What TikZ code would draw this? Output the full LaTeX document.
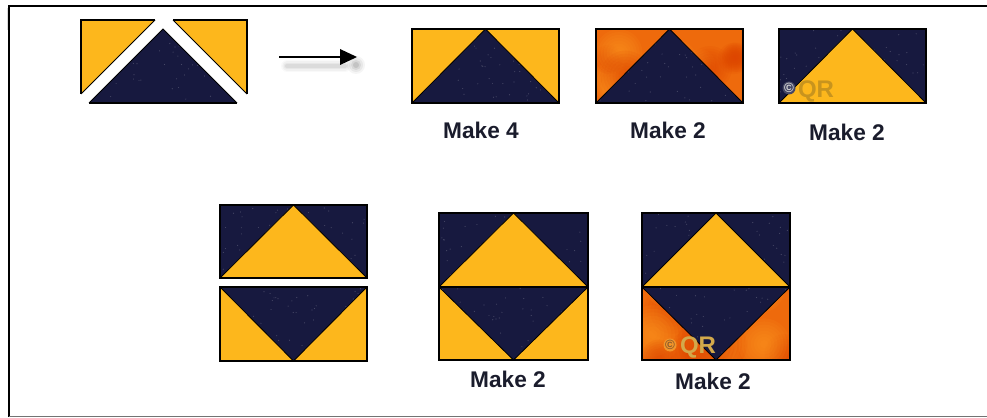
\documentclass[tikz,border=0pt]{standalone}
\usepackage{fontspec}
\setmainfont{Liberation Sans}
\definecolor{navy}{HTML}{17193F}
\definecolor{gold}{HTML}{FDB71C}
\definecolor{flame}{HTML}{EE6A0C}
\definecolor{flamelt}{HTML}{FF9A24}
\definecolor{flamedk}{HTML}{DE4300}
\definecolor{lbl}{HTML}{1A1C2C}
\definecolor{emboss}{HTML}{C8941E}
\tikzset{
  x=0.75pt,y=-0.75pt,
  edge/.style={preaction={draw=black!40,line width=1.5pt},draw=black,line width=0.9pt,line join=miter},
  seam/.style={draw=black,line width=0.6pt},
  makelbl/.style={font=\fontsize{17}{20}\selectfont\bfseries,text=lbl,inner sep=0pt},
  wm/.style={font=\fontsize{18}{20}\selectfont\bfseries,inner sep=0pt},
  wmc/.style={font=\fontsize{10}{10}\selectfont\bfseries,inner sep=0pt},
}
% specks on navy, inside current clip
\newcommand{\specks}[4]{%
  \pgfmathsetseed{#4}%
  \foreach \i in {1,...,55}{%
    \pgfmathsetmacro{\sx}{#1+rnd*#3}%
    \pgfmathsetmacro{\sy}{#2+rnd*74}%
    \fill[white,opacity=0.2] (\sx,\sy) circle (0.45pt);
  }}
% soft blotch: x y radius colour
\newcommand{\blotch}[4]{%
  \foreach \r in {1.0,0.88,0.76,0.64,0.52,0.40,0.28,0.16}{%
    \fill[#4,opacity=0.11] (#1,#2) circle ({#3*\r*0.75pt});
  }}
% orange mottled rectangle
\newcommand{\orangerect}[4]{%
  \fill[flame] (#1,#2) rectangle (#3,#4);
  \begin{scope}
    \clip (#1,#2) rectangle (#3,#4);
    \pgfmathsetseed{#1}%
    \foreach \i in {1,...,12}{%
      \pgfmathsetmacro{\bx}{#1+rnd*(#3-#1)}%
      \pgfmathsetmacro{\by}{#2+rnd*(#4-#2)}%
      \pgfmathsetmacro{\br}{14+rnd*16}%
      \pgfmathparse{mod(\i,2)==0 ? "flamelt" : "flamedk"}%
      \edef\bc{\pgfmathresult}%
      \blotch{\bx}{\by}{\br}{\bc}
    }
  \end{scope}
}
% flying geese, dark centre (apex at top)
\newcommand{\darkgoose}[5]{%
  \begin{scope}
    \clip (#1,#4) -- ({(#1+#3)/2},#2) -- (#3,#4) -- cycle;
    \fill[navy] (#1,#2) rectangle (#3,#4);
    \specks{#1}{#2}{147}{#5}
  \end{scope}
  \draw[seam] (#1,#4) -- ({(#1+#3)/2},#2) -- (#3,#4);
}
\newcommand{\darkgoosedown}[5]{% apex at bottom
  \begin{scope}
    \clip (#1,#2) -- ({(#1+#3)/2},#4) -- (#3,#2) -- cycle;
    \fill[navy] (#1,#2) rectangle (#3,#4);
    \specks{#1}{#2}{147}{#5}
  \end{scope}
  \draw[seam] (#1,#2) -- ({(#1+#3)/2},#4) -- (#3,#2);
}
% gold goose on dark ground, apex up
\newcommand{\goldgoose}[5]{%
  \fill[navy] (#1,#2) rectangle (#3,#4);
  \begin{scope}
    \clip (#1,#2) rectangle (#3,#4);
    \specks{#1}{#2}{147}{#5}
  \end{scope}
  \fill[gold] (#1,#4) -- ({(#1+#3)/2},#2) -- (#3,#4) -- cycle;
  \draw[seam] (#1,#4) -- ({(#1+#3)/2},#2) -- (#3,#4);
}
\begin{document}
\begin{tikzpicture}
\useasboundingbox (0,0) rectangle (987,417);
\fill[white] (0,0) rectangle (987,417);
% outer frame
\fill[black!14] (7,8) rectangle (9,30);
\draw[black,line width=1.6pt] (9,417) -- (9,6) -- (987,6);
\draw[black!55,line width=0.9pt] (9,416.4) -- (987,416.4);

% exploded unit
\fill[gold] (81,20) -- (155,20) -- (81,94) -- cycle;
\draw[edge] (155,20) -- (81,20) -- (81,94);
\draw[seam] (155,20) -- (81,94);
\fill[gold] (173,20) -- (247,20) -- (247,94) -- cycle;
\draw[edge] (173,20) -- (247,20) -- (247,94);
\draw[seam] (173,20) -- (247,94);
\darkgoose{89}{29}{237}{103}{11}
\draw[edge] (89,103) -- (237,103);

% arrow
\coordinate (arrowA) at (279,57);
\coordinate (arrowB) at (357,57);
\foreach \w/\o in {9/0.025,7/0.03,5/0.04,3/0.05}{
  \draw[black,opacity=\o,line width=\w pt,line cap=round] (287,66) -- (345,66);
}
\foreach \r/\o in {9/0.04,7/0.05,5/0.07,3/0.09}{
  \fill[black,opacity=\o] (356,65) circle (\r);
}
\draw[black,line width=2pt] (arrowA) -- (342,57);
\fill[black] (340,49) -- (arrowB) -- (340,65) -- cycle;

% row 1 blocks
\fill[gold] (412,29) rectangle (559,103);
\darkgoose{412}{29}{559}{103}{21}
\draw[edge] (412,29) rectangle (559,103);
\node[makelbl] (m1) at (481,130) {Make 4};

\orangerect{596}{29}{743}{103}
\darkgoose{596}{29}{743}{103}{22}
\draw[edge] (596,29) rectangle (743,103);
\node[makelbl] (m2) at (668,130) {Make 2};

\goldgoose{779}{29}{926}{103}{23}
\draw[edge] (779,29) rectangle (926,103);
\fill[navy!80!white] (789,88) circle (6.5);
\node[wmc,text=white!85!black] (c1) at (789,88) {©};
\node[wm,text=emboss] (q1) at (816,91) {QR};
\node[makelbl] (m3) at (847,132) {Make 2};

% row 2 left pair
\goldgoose{220}{205}{367}{278}{31}
\draw[edge] (220,205) rectangle (367,278);
\fill[gold] (220,287) rectangle (367,361);
\darkgoosedown{220}{287}{367}{361}{32}
\draw[edge] (220,287) rectangle (367,361);

% block F
\goldgoose{439}{213}{588}{287}{41}
\fill[gold] (439,287) rectangle (588,360);
\darkgoosedown{439}{287}{588}{360}{42}
\draw[edge] (439,213) rectangle (588,360);
\draw[edge] (439,287) -- (588,287);
\node[makelbl] (m4) at (508,379) {Make 2};

% block G
\goldgoose{642}{213}{790}{287}{51}
\orangerect{642}{287}{790}{360}
\darkgoosedown{642}{287}{790}{360}{52}
\draw[edge] (642,213) rectangle (790,360);
\draw[edge] (642,287) -- (790,287);
\fill[flamelt!80!brown] (670,345) circle (6.5);
\node[wmc,text=brown!70!black] (c2) at (670,345) {©};
\node[wm,text=emboss!80!white] (q2) at (698,347) {QR};
\node[makelbl] (m5) at (713,381) {Make 2};
\end{tikzpicture}
\end{document}
